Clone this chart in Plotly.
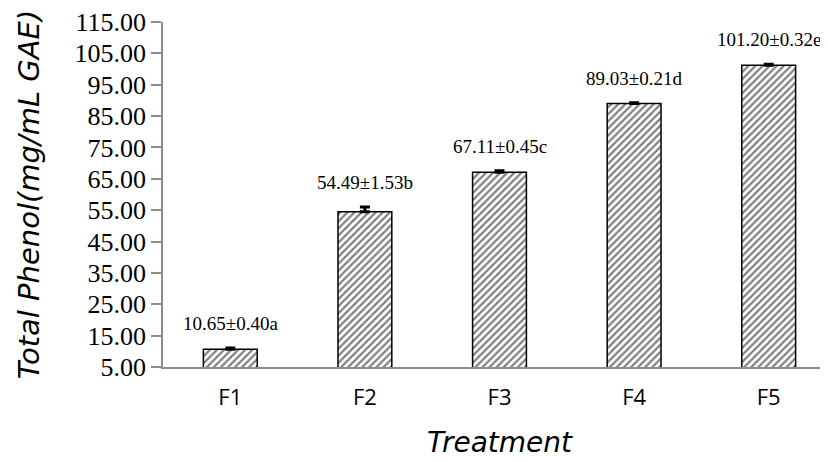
import plotly.graph_objects as go

categories = ["F1", "F2", "F3", "F4", "F5"]
values = [10.65, 54.49, 67.11, 89.03, 101.20]
errors = [0.40, 1.53, 0.45, 0.21, 0.32]
letters = ["a", "b", "c", "d", "e"]
ytick_vals = [5, 15, 25, 35, 45, 55, 65, 75, 85, 95, 105, 115]

fig = go.Figure()
fig.add_trace(go.Bar(
    x=categories, y=values, width=0.4,
    marker=dict(color="white", line=dict(color="black", width=1.5),
                pattern=dict(shape="/", fgcolor="black", bgcolor="white", size=5, solidity=0.45)),
    error_y=dict(type="data", array=errors, arrayminus=[0] * len(errors), visible=True,
                 color="black", thickness=3, width=5),
    showlegend=False,
))

for c, v, e, l in zip(categories, values, errors, letters):
    fig.add_annotation(x=c, y=v + e, text=f"{v:.2f}±{e:.2f}{l}", showarrow=False,
                       yanchor="bottom", yshift=12,
                       font=dict(family="Liberation Serif", size=19, color="black"))

fig.update_layout(
    width=828, height=454,
    margin=dict(l=155, r=0, t=14, b=95),
    plot_bgcolor="white", paper_bgcolor="white",
    bargap=0.6,
)
fig.update_yaxes(range=[5, 115], tickvals=ytick_vals, ticktext=[f"{v:.2f}" for v in ytick_vals],
                 automargin=False, ticklabeloverflow="allow",
                 showgrid=False, zeroline=False, showline=True, linecolor="#8c8c8c", linewidth=1.5,
                 ticks="outside", ticklen=10, tickcolor="#8c8c8c", tickwidth=1.5,
                 tickfont=dict(family="Liberation Serif", size=26, color="black"),
                 title=dict(text="Total Phenol(mg/mL GAE)", standoff=26,
                            font=dict(family="DejaVu Sans", size=29, color="black", style="italic")))
fig.update_xaxes(showgrid=False, showline=True, linecolor="#8c8c8c", linewidth=1.5,
                 automargin=False, ticklabelstandoff=10,
                 ticks="", tickfont=dict(family="Open Sans", size=22, color="black"),
                 title=dict(text="Treatment", standoff=22,
                            font=dict(family="DejaVu Sans", size=28, color="black", style="italic")))

fig.write_html("out.html")
